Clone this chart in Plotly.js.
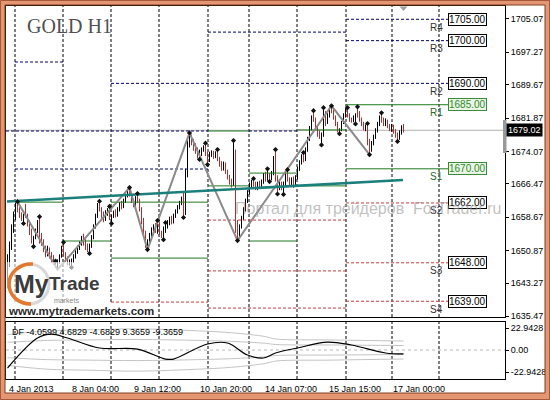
<!DOCTYPE html>
<html><head><meta charset="utf-8">
<script src="https://cdn.plot.ly/plotly-3.0.1.min.js"></script>
<style>html,body{margin:0;padding:0;background:#fff;}#chart{width:550px;height:400px;}</style>
</head><body><div id="chart"></div>
<script>
// ---------------- DATA ----------------
const barOpen = [
1643.5,1648.5,1652,1656,1659,1661,1660.2,1659,1658.2,1659.2,
1659,1657,1655,1653,1654,1655.5,1657.5,1653.5,1652.5,1651,
1650,1651.2,1649.5,1648.6,1648,1647.3,1648.3,1649.6,1651.2,1650,
1648.6,1647.8,1648.2,1648.6,1649.6,1650.6,1651.5,1652.5,1653.5,1652.5,
1651.5,1651,1652,1654,1656.5,1659,1661.5,1660.5,1659,1658,
1659.5,1660.5,1658.5,1659,1659.8,1659,1660.5,1661.8,1661,1662.5,
1663.8,1664.8,1664,1662.5,1661.5,1663,1662.5,1660.5,1658,1655,
1652.5,1653,1654.5,1655.5,1656.3,1655.5,1657,1655,1654.2,1656,
1656.8,1657.5,1658.2,1657.5,1659,1660,1661,1662,1663,1659.5,
1669,1676.5,1677.5,1676,1675,1674,1672.8,1673.5,1674.5,1675.2,
1673.5,1672,1673.5,1673.8,1672.8,1673.8,1672.2,1671,1670,1671.2,
1669.2,1668,1667,1666.5,1670,1656,1654.5,1656.5,1658.5,1660.5,
1662.5,1664.5,1666,1667,1666.2,1665.5,1666.5,1665.8,1667,1668.5,
1667.5,1668,1667.5,1669,1672.5,1668,1665.8,1666.5,1665.5,1666.5,
1668.5,1667.5,1666.5,1667.5,1666.5,1668,1670,1671.5,1673,1672,
1674.5,1677,1679.5,1682,1681.5,1679.5,1678,1677.5,1678,1683,
1681,1682.5,1684,1683.5,1682,1680.5,1679,1679.2,1680.8,1682.5,
1683.8,1682.5,1681.5,1681,1682.2,1682.8,1682.5,1681.5,1680.5,1679.5,
1680.2,1676,1674.5,1676,1677.5,1679,1680.5,1682,1681.5,1680.5,
1681.2,1680,1679.2,1680,1678.8,1677.8,1677.2,1678.5,1679.5];
const barHigh = [
1650,1653,1657,1660,1662,1662.3,1661,1659.8,1659.5,1661.8,
1659.5,1657.8,1656,1654.3,1656,1658,1658.8,1655,1653.5,1652,
1652,1651.6,1650.5,1649.8,1648.8,1648.8,1650,1652,1652.8,1650.5,
1649.5,1648.8,1649,1650,1651,1652,1653,1654.3,1654.8,1653.5,
1652.5,1652.5,1654.5,1657,1659.5,1662,1662.4,1661,1660,1660.3,
1660.8,1661.2,1659.3,1660.2,1660.5,1661,1662.2,1662.5,1663,1664.2,
1665.1,1665.6,1664.5,1663,1663.6,1664.2,1663,1661,1658.5,1655.5,
1653.5,1655,1656.3,1657,1657.3,1657.9,1657.5,1655.5,1656.5,1657.4,
1658,1658.8,1659,1659.5,1660.5,1661.5,1662.5,1663.5,1664.4,1670,
1677.5,1678.4,1678,1677,1676,1675,1674.5,1675,1675.5,1676,
1674,1674,1674.3,1674.2,1674.1,1674.5,1672.8,1671.8,1671.7,1671.5,
1669.8,1668.6,1667.7,1676.6,1674.5,1658,1657,1659,1661,1663,
1665,1666.8,1667.4,1667.7,1667,1667,1667.2,1667.5,1669,1669.3,
1670,1669,1669.5,1673,1674.5,1668.5,1667.5,1667,1667,1669,
1669.8,1668,1668,1668.2,1668.5,1670.5,1672,1673.4,1673.8,1675,
1677.5,1680,1682.5,1683.6,1682,1680,1679,1678.5,1684.3,1683.5,
1683,1684.5,1684.75,1684,1682.5,1681,1679.5,1681.2,1683,1684.2,
1684.3,1683,1682,1682.5,1683,1684.5,1683.5,1682,1681,1680.4,
1680.6,1677,1676.5,1678,1679.5,1681,1682.5,1683.1,1682,1681.8,
1681.5,1680.5,1680.5,1680.3,1679.3,1678.5,1679,1680.2,1680.5];
const barLow = [
1642,1647,1651,1655,1658,1659.8,1658.5,1657.8,1657.2,1658.5,
1656.5,1654.5,1652.5,1651.8,1653.5,1655,1652.5,1652,1650.5,1649.3,
1649.5,1649,1648,1647.5,1646.8,1646.3,1647.8,1649.2,1649.5,1648.2,
1647.4,1647.3,1646.9,1648,1649,1650.1,1651,1652,1652,1651,
1650.5,1650.2,1651.5,1653.5,1656,1658.5,1660,1658.5,1657.5,1657.8,
1659,1658,1657.2,1658.5,1658.6,1658.8,1660,1660.5,1660.8,1662,
1663.3,1663.5,1662,1661,1661,1662,1660,1657,1654,1651.5,
1651.1,1652.3,1653.8,1654.5,1655,1654.8,1654.5,1653.8,1653.4,1655,
1656,1656.8,1657,1657.2,1658.5,1659.5,1660.5,1661.5,1658.6,1659.2,
1668,1675,1675.5,1674.2,1673.5,1672.4,1672.2,1673,1674,1673,
1671,1671.6,1672.8,1672.3,1672.5,1671.8,1670.5,1669.5,1669.6,1668.8,
1667.5,1666.3,1665.6,1666,1655,1653.2,1654,1656,1658,1660,
1662,1664,1665.5,1665.8,1665,1665,1665.3,1665.5,1666.5,1667,
1667.2,1667,1667.3,1668.5,1667,1664.1,1665,1665,1664,1666,
1667,1666,1665.8,1665.5,1665.8,1667.5,1669.5,1671,1671.5,1671.8,
1674,1676.5,1679,1681,1679,1677.5,1677,1675.6,1677.5,1680,
1680.5,1682,1683,1681.5,1680,1678.5,1678.2,1678.8,1680.5,1682,
1682,1681,1680.8,1680.9,1680.5,1682,1681,1680,1679,1678.8,
1675.5,1673.3,1674,1675.5,1677,1678.5,1680,1680.8,1680,1680,
1679.5,1678.8,1678.7,1678.2,1677.3,1676.4,1676.8,1678,1678.5];
const barClose = [
1648.5,1652,1656,1659,1661,1660.2,1659,1658.2,1659.2,1659,
1657,1655,1653,1654,1655.5,1657.5,1653.5,1652.5,1651,1650,
1651.2,1649.5,1648.6,1648,1647.3,1648.3,1649.6,1651.2,1650,1648.6,
1647.8,1648.2,1648.6,1649.6,1650.6,1651.5,1652.5,1653.5,1652.5,1651.5,
1651,1652,1654,1656.5,1659,1661.5,1660.5,1659,1658,1659.5,
1660.5,1658.5,1659,1659.8,1659,1660.5,1661.8,1661,1662.5,1663.8,
1664.8,1664,1662.5,1661.5,1663,1662.5,1660.5,1658,1655,1652.5,
1653,1654.5,1655.5,1656.3,1655.5,1657,1655,1654.2,1656,1656.8,
1657.5,1658.2,1657.5,1659,1660,1661,1662,1663,1659.5,1669,
1676.5,1677.5,1676,1675,1674,1672.8,1673.5,1674.5,1675.2,1673.5,
1672,1673.5,1673.8,1672.8,1673.8,1672.2,1671,1670,1671.2,1669.2,
1668,1667,1666.5,1670,1656,1654.5,1656.5,1658.5,1660.5,1662.5,
1664.5,1666,1667,1666.2,1665.5,1666.5,1665.8,1667,1668.5,1667.5,
1668,1667.5,1669,1672.5,1668,1665.8,1666.5,1665.5,1666.5,1668.5,
1667.5,1666.5,1667.5,1666.5,1668,1670,1671.5,1673,1672,1674.5,
1677,1679.5,1682,1681.5,1679.5,1678,1677.5,1678,1683,1681,
1682.5,1684,1683.5,1682,1680.5,1679,1679.2,1680.8,1682.5,1683.8,
1682.5,1681.5,1681,1682.2,1682.8,1682.5,1681.5,1680.5,1679.5,1680.2,
1676,1674.5,1676,1677.5,1679,1680.5,1682,1681.5,1680.5,1681.2,
1680,1679.2,1680,1678.8,1677.8,1677.2,1678.5,1679.5,1679.02];

const lastPrice = 1679.02;
const priceTicks = [1705.07,1697.27,1689.67,1681.87,1674.07,1666.47,1658.67,1650.87,1643.27,1635.47];
const dateLabels = ['4 Jan 2013','8 Jan 04:00','9 Jan 12:00','10 Jan 20:00','14 Jan 07:00','15 Jan 15:00','17 Jan 00:00'];
const dateLabelBars = [-0.5, 31, 62, 95, 127.5, 159.5, 191.5];
const dayBreakBars = [3.75, 27.75, 51.75, 75.75, 100.25, 120.75, 144.75, 169.25, 192.25, 215.75];

const levelNames = ['R4','R3','R2','R1','S1','S2','S3','S4'];
const levelValues = [1705, 1700, 1690, 1685, 1670, 1662, 1648, 1639];

const navyFrom  = [3.75, 51.75, 100.25, -0.75, 3.75, 120.75, 169.25, 169.25, 169.25];
const navyTo    = [27.75, 169.25, 169.25, 100.25, 100.25, 144.75, 220.25, 220.25, 220.25];
const navyLevel = [1695.0, 1690.0, 1702.0, 1678.85, 1669.95, 1678.85, 1705, 1700, 1690];

const greenFrom  = [3.75, 27.75, 51.75, 51.75, 100.25, 100.25, 120.75, 120.75, 144.75, 144.75, 169.25, 169.25];
const greenTo    = [27.75, 51.75, 100.25, 100.25, 120.75, 120.75, 144.75, 144.75, 169.25, 169.25, 220.25, 220.25];
const greenLevel = [1662.2, 1653.1, 1662.2, 1649.1, 1678.85, 1666.0, 1669.0, 1653.1, 1679.1, 1666.0, 1685, 1670];

const redFrom  = [51.75, 100.25, 100.25, 100.25, 169.25, 169.25, 169.25];
const redTo    = [100.25, 169.25, 169.25, 169.25, 220.25, 220.25, 220.25];
const redLevel = [1638.8, 1658.0, 1646.1, 1637.4, 1662, 1648, 1639];

const trendBar = [-0.25, 197.75];
const trendPrice = [1662.35, 1667.38];

const zigzagBar = [5, 25, 61, 70, 91, 115, 162, 181];
const zigzagPrice = [1662.3, 1646.4, 1665.6, 1651.1, 1678.4, 1653.2, 1684.75, 1673.3];

const fractalBar = [5,8,16,13,24,28,32,41,46,51,52,61,65,70,75,78,79,88,91,96,99,100,105,113,115,123,130,131,134,135,138,140,148,153,157,158,162,166,170,174,175,180,181,187,195];
const fractalPrice = [1662.3,1657.2,1658.8,1651.8,1648.4,1652.8,1646.9,1650.2,1662.4,1661.2,1657.2,1665.6,1664.2,1651.1,1657.9,1653.4,1657.4,1658.6,1678.4,1672.2,1676,1671,1674.5,1676.6,1653.2,1667.7,1670,1667,1674.5,1664.1,1664,1669.8,1673.8,1683.6,1675.6,1684.3,1684.75,1678.2,1684.3,1680.5,1684.5,1680.6,1673.3,1683.1,1676.4];

const dfTicks = [22.9428, 0, -22.9428];
const dfTickText = ['22.9428', '0.00', '-22.9428'];
const dfBar = [0, 15, 22, 30, 46, 65, 79, 83, 100, 110, 120, 128, 134, 145, 160, 172, 189, 198];
const dfValue = [-18.8, 12.5, 16.5, 12.5, 2.1, 1.0, -9.4, -9.4, 6.3, 7.3, -5.2, -8.3, -3.1, 2.1, 8.3, 5.2, -3.1, -4.06];
const bandBar = [0, 20, 40, 65, 95, 112, 129, 134, 162, 198];
const bandOuterUp = [16, 20, 21, 22, 20, 18, 14, 11.5, 10.5, 9.3659];
const bandInnerUp = [8, 10, 10.5, 11, 10, 9, 7, 5.75, 5.25, 4.6829];
const bandInnerDn = [-8, -10, -10.5, -11, -10, -9, -7, -5.75, -5.25, -4.6829];
const bandOuterDn = [-16, -20, -21, -22, -20, -18, -14, -11.5, -10.5, -9.3659];
const dfHeader = 'DF -4.0599 4.6829 -4.6829 9.3659 -9.3659';

// ---------------- HELPERS (layout geometry) ----------------
const W = 550, H = 400, ML = 6, MR = 45, MT = 6, MB = 21;
const PW = W - ML - MR, PH = H - MT - MB;
const PX = px => (px - ML) / PW;
const PY = py => (H - MB - py) / PH;
const FONT = 'Liberation Sans, Arial, sans-serif';

function segTrace(from, to, lvl, color, dash, width) {
  const xs = [], ys = [];
  from.forEach((f, k) => { xs.push(f, to[k], null); ys.push(lvl[k], lvl[k], null); });
  return {type: 'scatter', mode: 'lines', x: xs, y: ys, xaxis: 'x', yaxis: 'y',
    line: {color: color, dash: dash, width: width}, hoverinfo: 'skip', connectgaps: false};
}

const barIndex = barClose.map((_, k) => k);

const data = [
  segTrace(navyFrom, navyTo, navyLevel, '#00006e', '3px,2px', 1),
  segTrace(redFrom, redTo, redLevel, '#c83c3c', '3px,2px', 1),
  segTrace(greenFrom, greenTo, greenLevel, '#1f7a1f', 'solid', 1),
  {type: 'ohlc', x: barIndex, open: barOpen, high: barHigh, low: barLow, close: barClose,
   xaxis: 'x', yaxis: 'y', tickwidth: 0,
   increasing: {line: {color: '#000000', width: 1}},
   decreasing: {line: {color: '#b52a2a', width: 1}}, hoverinfo: 'skip'},
  {type: 'scatter', mode: 'lines', x: zigzagBar, y: zigzagPrice, xaxis: 'x', yaxis: 'y',
   line: {color: '#8a8a8a', width: 2}, hoverinfo: 'skip'},
  {type: 'scatter', mode: 'lines', x: trendBar, y: trendPrice, xaxis: 'x', yaxis: 'y',
   line: {color: '#1b7f7c', width: 2.6}, hoverinfo: 'skip'},
  {type: 'scatter', mode: 'markers', x: fractalBar, y: fractalPrice, xaxis: 'x', yaxis: 'y',
   marker: {symbol: 'diamond', size: 4, color: '#111'}, hoverinfo: 'skip'},
  {type: 'scatter', mode: 'lines', x: bandBar, y: bandOuterUp, xaxis: 'x2', yaxis: 'y2', line: {color: '#c4c4c4', width: 1, shape: 'spline'}, hoverinfo: 'skip'},
  {type: 'scatter', mode: 'lines', x: bandBar, y: bandInnerUp, xaxis: 'x2', yaxis: 'y2', line: {color: '#c4c4c4', width: 1, shape: 'spline'}, hoverinfo: 'skip'},
  {type: 'scatter', mode: 'lines', x: bandBar, y: bandInnerDn, xaxis: 'x2', yaxis: 'y2', line: {color: '#c4c4c4', width: 1, shape: 'spline'}, hoverinfo: 'skip'},
  {type: 'scatter', mode: 'lines', x: bandBar, y: bandOuterDn, xaxis: 'x2', yaxis: 'y2', line: {color: '#c4c4c4', width: 1, shape: 'spline'}, hoverinfo: 'skip'},
  {type: 'scatter', mode: 'lines', x: dfBar, y: dfValue, xaxis: 'x2', yaxis: 'y2', line: {color: '#000', width: 1.2, shape: 'spline'}, hoverinfo: 'skip'}
];

// ---------------- SHAPES ----------------
const shapes = [];
shapes.push({type: 'line', xref: 'paper', yref: 'y', x0: 0, x1: 1, y0: lastPrice, y1: lastPrice, line: {color: '#b0b0b0', width: 1}, layer: 'below'});
shapes.push({type: 'line', xref: 'paper', yref: 'y2', x0: 0, x1: 1, y0: 0, y1: 0, line: {color: '#b8b8b8', width: 1, dash: '3px,3px'}, layer: 'below'});
dayBreakBars.forEach(b => {
  shapes.push({type: 'line', xref: 'x', yref: 'y domain', x0: b, x1: b, y0: 0, y1: 1, line: {color: '#000', width: 1, dash: '3px,2px'}, layer: 'below'});
  shapes.push({type: 'line', xref: 'x', yref: 'y2 domain', x0: b, x1: b, y0: 0, y1: 1, line: {color: '#000', width: 1, dash: '3px,2px'}, layer: 'below'});
});
shapes.push({type: 'rect', xref: 'paper', yref: 'paper', x0: PX(7), x1: PX(102), y0: PY(303), y1: PY(262), fillcolor: 'rgba(255,255,255,0.6)', line: {width: 0}, layer: 'above'});
shapes.push({type: 'rect', xref: 'paper', yref: 'paper', x0: PX(7), x1: PX(155), y0: PY(316.5), y1: PY(303), fillcolor: '#ffffff', line: {width: 0}, layer: 'above'});
shapes.push({type: 'circle', xref: 'paper', yref: 'paper', xsizemode: 'pixel', ysizemode: 'pixel', xanchor: PX(29), yanchor: PY(284), x0: -20, x1: 20, y0: -20, y1: 20, line: {color: '#d8d8d8', width: 3}, layer: 'above'});
shapes.push({type: 'path', xref: 'paper', yref: 'paper', xsizemode: 'pixel', ysizemode: 'pixel', xanchor: PX(29), yanchor: PY(284),
  path: 'M 4,20 C -9,21 -20,11.05 -20,0 C -20,-11.05 -11.05,-20 2,-20', line: {color: '#e5782c', width: 3.5}, layer: 'above'});
shapes.push({type: 'rect', xref: 'paper', yref: 'paper', x0: PX(503), x1: PX(506.5), y0: PY(153), y1: PY(120), fillcolor: '#9a9a9a', line: {width: 0}, layer: 'above'});
shapes.push({type: 'path', xref: 'paper', yref: 'paper', path: `M ${PX(399.5)},${PY(6.5)} L ${PX(407.5)},${PY(6.5)} L ${PX(403.5)},${PY(11)} Z`, fillcolor: '#a0a0a0', line: {width: 0}, layer: 'above'});
const bandCol = '#e49572';
[[0,0,550,5],[0,393,550,400],[0,0,5,400],[545,0,550,400]].forEach(r => {
  shapes.push({type: 'rect', xref: 'paper', yref: 'paper', x0: PX(r[0]), x1: PX(r[2]), y0: PY(r[3]), y1: PY(r[1]), fillcolor: bandCol, line: {width: 0}, layer: 'above'});
});
shapes.push({type: 'rect', xref: 'paper', yref: 'paper', x0: PX(0.5), x1: PX(549.5), y0: PY(399.5), y1: PY(0.5), line: {color: '#a5583a', width: 1}, layer: 'above'});
shapes.push({type: 'rect', xref: 'paper', yref: 'paper', x0: PX(5), x1: PX(545), y0: PY(393), y1: PY(5), line: {color: '#7e3e22', width: 1}, layer: 'above'});

// ---------------- ANNOTATIONS ----------------
const ann = [];
ann.push({xref: 'paper', yref: 'paper', x: PX(25), y: PY(26), xanchor: 'left', yanchor: 'middle', showarrow: false,
  text: 'GOLD H1', font: {family: 'Liberation Serif, Times New Roman, serif', size: 20, color: '#505050'}});
ann.push({xref: 'paper', yref: 'paper', x: PX(12), y: PY(284), xanchor: 'left', yanchor: 'middle', showarrow: false,
  text: 'My', font: {family: FONT, size: 25, color: '#3c3c3c', weight: 'bold'}});
ann.push({xref: 'paper', yref: 'paper', x: PX(48), y: PY(295), xanchor: 'left', yanchor: 'bottom', showarrow: false, borderpad: 0,
  text: 'Trade', font: {family: FONT, size: 19, color: '#3c3c3c', weight: 'bold'}});
ann.push({xref: 'paper', yref: 'paper', x: PX(53), y: PY(295.5), xanchor: 'left', yanchor: 'top', showarrow: false, borderpad: 0,
  text: 'markets', font: {family: FONT, size: 7, color: '#888'}});
ann.push({xref: 'paper', yref: 'paper', x: PX(6), y: PY(310.5), xanchor: 'left', yanchor: 'middle', showarrow: false,
  text: 'www.mytrademarkets.com', font: {family: FONT, size: 11.5, color: '#2a2a2a', weight: 'bold'}});
ann.push({xref: 'paper', yref: 'paper', x: PX(10), y: PY(332), xanchor: 'left', yanchor: 'middle', showarrow: false,
  text: dfHeader, font: {family: FONT, size: 9, color: '#000'}});
dateLabels.forEach((t, k) => ann.push({xref: 'x', yref: 'paper', x: dateLabelBars[k], y: PY(389), xanchor: 'left', yanchor: 'middle', showarrow: false,
  text: t, font: {family: FONT, size: 9, color: '#000'}}));
levelNames.forEach((n, k) => {
  const green = (n === 'R1' || n === 'S1');
  ann.push({xref: 'x', yref: 'y', x: 218.5, y: levelValues[k], yshift: -8, xanchor: 'right', yanchor: 'middle', showarrow: false,
    text: n, font: {family: FONT, size: 10, color: green ? '#2a6a2a' : '#333'}});
  ann.push({xref: 'x', yref: 'y', x: 220.25, y: levelValues[k], xanchor: 'left', yanchor: 'middle', showarrow: false,
    text: levelValues[k].toFixed(2), font: {family: FONT, size: 10, color: green ? '#2e8b2e' : '#000'},
    bgcolor: green ? '#eaf5e4' : '#ffffff', bordercolor: green ? '#3a8a3a' : '#000', borderwidth: 1, borderpad: 0});
});
ann.push({xref: 'paper', yref: 'y', x: 1, xshift: 1, y: lastPrice, xanchor: 'left', yanchor: 'middle', showarrow: false,
  text: lastPrice.toFixed(2), font: {family: FONT, size: 9, color: '#fff'}, bgcolor: '#000', borderpad: 1});
// watermark drawn last so it lies over the level boxes, as in the reference
ann.push({xref: 'paper', yref: 'paper', x: PX(233), y: PY(209), xanchor: 'left', yanchor: 'middle', showarrow: false,
  text: 'Портал для трейдеров  ForTrader.ru', font: {family: FONT, size: 16, color: 'rgba(150,150,150,0.6)'}});

// ---------------- LAYOUT ----------------
const layout = {
  width: W, height: H, margin: {l: ML, r: MR, t: MT, b: MB, pad: 0},
  paper_bgcolor: '#fff', plot_bgcolor: '#fff', showlegend: false, hovermode: false,
  font: {family: FONT, size: 9, color: '#000'},
  xaxis: {domain: [0, 1], range: [-0.75, 248.75], anchor: 'y', showticklabels: false, showgrid: false, zeroline: false,
    showline: true, mirror: true, linecolor: '#000', linewidth: 1, ticks: '', rangeslider: {visible: false}, fixedrange: true},
  yaxis: {domain: [PY(317), 1], range: [1635.31, 1708.11], side: 'right', anchor: 'x', showgrid: false, zeroline: false,
    showline: true, mirror: true, linecolor: '#000', linewidth: 1, ticks: 'outside', ticklen: 3, tickcolor: '#000',
    tickvals: priceTicks, ticktext: priceTicks.map(v => v.toFixed(2)), tickfont: {family: FONT, size: 9, color: '#000'}, fixedrange: true},
  xaxis2: {domain: [0, 1], range: [-0.75, 248.75], anchor: 'y2', matches: 'x', showticklabels: false, showgrid: false, zeroline: false,
    showline: true, mirror: true, linecolor: '#000', linewidth: 1, ticks: '', fixedrange: true},
  yaxis2: {domain: [0, PY(322)], range: [-30.2, 29.2], side: 'right', anchor: 'x2', showgrid: false, zeroline: false,
    showline: true, mirror: true, linecolor: '#000', linewidth: 1, ticks: 'outside', ticklen: 3, tickcolor: '#000',
    tickvals: dfTicks, ticktext: dfTickText, tickfont: {family: FONT, size: 9, color: '#000'}, fixedrange: true},
  shapes: shapes, annotations: ann
};

Plotly.newPlot('chart', data, layout, {staticPlot: true, displayModeBar: false});
</script></body></html>
